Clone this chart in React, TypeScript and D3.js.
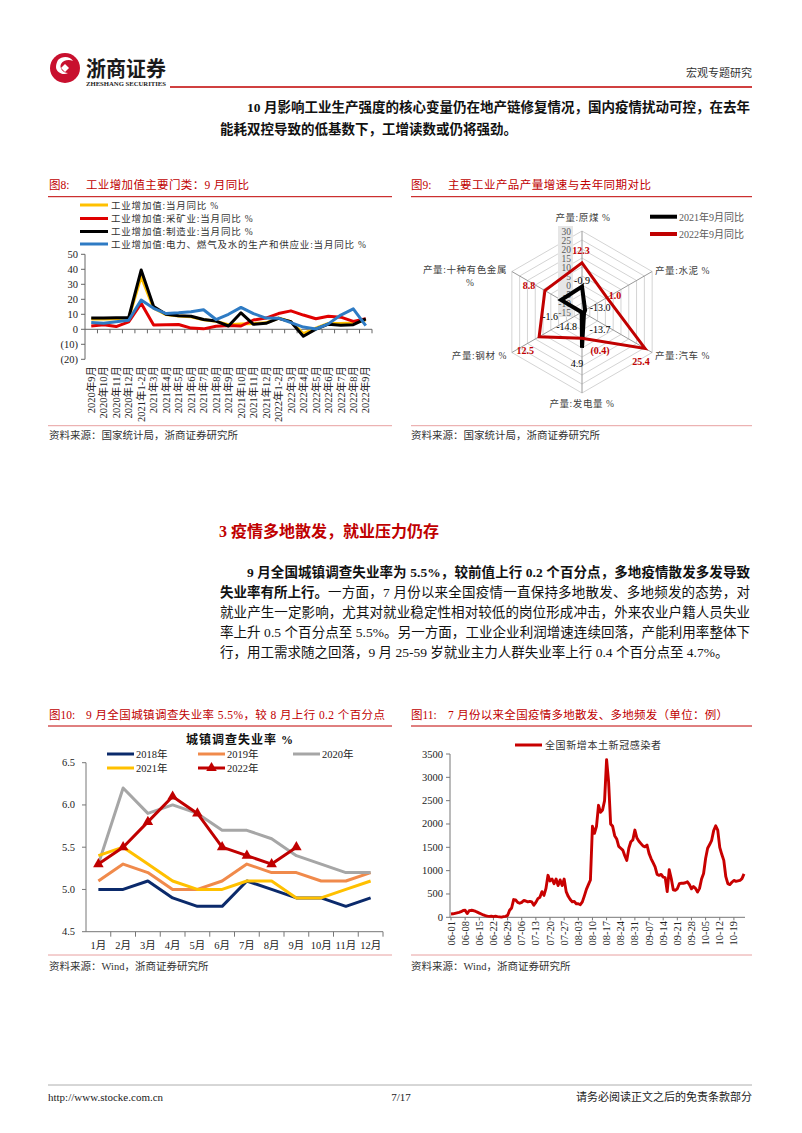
import React from 'react';
import * as d3 from 'd3';

const SERIF = "'Liberation Serif','Times New Roman','Noto Sans CJK SC',serif";
const RED = '#C00000';

// ---------- Figure 8 data ----------
const f8Categories = ['2020年9月', '2020年10月', '2020年11月', '2020年12月', '2021年1-2月', '2021年3月', '2021年4月', '2021年5月', '2021年6月', '2021年7月', '2021年8月', '2021年9月', '2021年10月', '2021年11月', '2021年12月', '2022年1-2月', '2022年3月', '2022年4月', '2022年5月', '2022年6月', '2022年7月', '2022年8月', '2022年9月'];
const f8Total = [6.9, 6.9, 7.0, 7.3, 35.1, 14.1, 9.8, 8.8, 8.3, 6.4, 5.3, 3.1, 3.5, 3.8, 4.3, 7.5, 5.0, -2.9, 0.7, 3.9, 3.8, 4.2, 6.3];
const f8Mining = [2.2, 3.0, 1.8, 5.0, 17.3, 2.8, 3.0, 3.2, 0.8, 0.3, 2.0, 2.6, 2.2, 6.2, 7.5, 10.5, 12.3, 9.5, 7.0, 8.7, 8.1, 5.3, 7.0];
const f8Manufacturing = [7.6, 7.5, 7.7, 7.7, 39.5, 15.2, 10.0, 9.0, 8.7, 6.5, 5.5, 2.2, 11.0, 3.3, 4.0, 7.3, 5.1, -4.6, 0.1, 3.4, 2.7, 3.1, 7.0];
const f8Utilities = [4.5, 4.0, 5.0, 6.0, 19.5, 14.0, 10.5, 11.0, 11.7, 13.0, 6.5, 10.0, 14.6, 10.5, 7.5, 7.4, 4.4, 1.5, 0.2, 3.6, 9.5, 13.6, 2.4];
const f8SeriesNames = ['工业增加值:当月同比 %', '工业增加值:采矿业:当月同比 %', '工业增加值:制造业:当月同比 %', '工业增加值:电力、燃气及水的生产和供应业:当月同比 %'];
const f8Colors = ['#FFC000', '#E00000', '#000000', '#2E7BC4'];
const f8YTicks = [50, 40, 30, 20, 10, 0, -10, -20];

// ---------- Figure 9 data ----------
const f9Axes = ['产量:原煤 %', '产量:水泥 %', '产量:汽车 %', '产量:发电量 %', '产量:钢材 %', '产量:十种有色金属 %'];
const f9Sep2021 = [-0.9, -13.0, -13.7, 4.9, -14.8, -1.6];
const f9Sep2022 = [12.3, 1.0, 25.4, -0.4, 12.5, 8.8];
const f9Ticks = [-15, -10, -5, 0, 5, 10, 15, 20, 25, 30];
const f9Legend = ['2021年9月同比', '2022年9月同比'];

// ---------- Figure 10 data ----------
const f10Months = ['1月', '2月', '3月', '4月', '5月', '6月', '7月', '8月', '9月', '10月', '11月', '12月'];
const f10Y2018 = [5.0, 5.0, 5.1, 4.9, 4.8, 4.8, 5.1, 5.0, 4.9, 4.9, 4.8, 4.9];
const f10Y2019 = [5.1, 5.3, 5.2, 5.0, 5.0, 5.1, 5.3, 5.2, 5.2, 5.1, 5.1, 5.2];
const f10Y2020 = [5.3, 6.2, 5.9, 6.0, 5.9, 5.7, 5.7, 5.6, 5.4, 5.3, 5.2, 5.2];
const f10Y2021 = [5.4, 5.5, 5.3, 5.1, 5.0, 5.0, 5.1, 5.1, 4.9, 4.9, 5.0, 5.1];
const f10Y2022 = [5.3, 5.5, 5.8, 6.1, 5.9, 5.5, 5.4, 5.3, 5.5];
const f10Names = ['2018年', '2019年', '2020年', '2021年', '2022年'];
const f10Colors = ['#0B2A6B', '#F08A4B', '#A6A6A6', '#FFC000', '#C00000'];
const f10YTicks = [4.5, 5.0, 5.5, 6.0, 6.5];

// ---------- Figure 11 data ----------
const f11TickLabels = ['06-01', '06-08', '06-15', '06-22', '06-29', '07-06', '07-13', '07-20', '07-27', '08-03', '08-10', '08-17', '08-24', '08-31', '09-07', '09-14', '09-21', '09-28', '10-05', '10-12', '10-19'];
const f11Cases = [
  70, 75, 85, 95, 105, 120, 145, 150, 80, 140,
  150, 145, 130, 110, 90, 70, 50, 35, 25, 20,
  25, 15, 25, 15, 10, 5, 15, 20, 40, 150,
  200, 380, 370, 320, 300, 320, 360, 350, 330, 340,
  330, 260, 320, 400, 430, 550, 470, 620, 900, 780,
  820, 720, 820, 680, 800, 680, 820, 550, 450, 380,
  330, 340, 290, 290, 270, 330, 460, 600, 700, 800,
  1950, 1800, 1950, 2400, 2250, 2300, 2500, 3380, 2900, 2000,
  1950, 1750, 1680, 1520, 1480, 1440, 1320, 1220, 1480, 1620,
  1660, 1870, 1700, 1630, 1580, 1530, 1510, 1550, 1370, 1260,
  1170, 1080, 920, 900, 920, 860, 850, 550, 1020, 830,
  590, 580, 610, 720, 730, 730, 740, 760, 700, 610,
  660, 620, 540, 620, 820, 940, 1260, 1480, 1560, 1650,
  1860, 1960, 1870, 1500, 1350, 1220, 870, 720, 700, 750,
  790, 770, 780, 790, 830, 930,
];
const f11YTicks = [0, 500, 1000, 1500, 2000, 2500, 3000, 3500];
const f11Legend = '全国新增本土新冠感染者';

function FigTitle({ x, y, num, text, width, ruleX1, ruleX2, ruleY }: any) {
  return (
    <g fontFamily={SERIF} fill={RED} fontSize={11.5}>
      <text x={x} y={y}>{num}</text>
      <text x={x + 37} y={y} textLength={width} lengthAdjust="spacing">{text}</text>
      <line x1={ruleX1} x2={ruleX2} y1={ruleY} y2={ruleY} stroke={RED} strokeWidth={1} />
    </g>
  );
}

function Source({ x, y, text, x1, x2, ly }: any) {
  return (
    <g>
      <line x1={x1} x2={x2} y1={ly} y2={ly} stroke="#E8A0A0" strokeWidth={1} />
      <text x={x} y={y} fontFamily={SERIF} fontSize={10.5} fill="#333">{text}</text>
    </g>
  );
}

function Fig8() {
  const x = d3.scaleBand<string>().domain(f8Categories).range([85, 372]);
  const y = d3.scaleLinear().domain([-20, 50]).range([359.3, 254.3]);
  const cx = (i: number) => (x(f8Categories[i]) as number) + x.bandwidth() / 2;
  const line = d3.line<number>().x((_, i) => cx(i)).y((d) => y(d));
  const series = [f8Total, f8Mining, f8Manufacturing, f8Utilities];
  const fmt = (v: number) => (v < 0 ? `(${-v})` : `${v}`);
  const legendY = [205, 218.5, 231.5, 244];
  return (
    <g fontFamily={SERIF}>
      {f8SeriesNames.map((n, i) => (
        <g key={n}>
          <line x1={80} x2={108} y1={legendY[i]} y2={legendY[i]} stroke={f8Colors[i]} strokeWidth={3} />
          <text x={111} y={legendY[i] + 3.5} fontSize={9.5} letterSpacing={0.8} fill="#333">{n}</text>
        </g>
      ))}
      <line x1={85} x2={85} y1={y(50)} y2={y(-20)} stroke="#666" />
      {f8YTicks.map((t) => (
        <g key={t}>
          <line x1={81} x2={85} y1={y(t)} y2={y(t)} stroke="#666" />
          <text x={78} y={y(t) + 3.5} textAnchor="end" fontSize={10.5} fill="#222">{fmt(t)}</text>
        </g>
      ))}
      <line x1={85} x2={372} y1={y(0)} y2={y(0)} stroke="#666" />
      {f8Categories.map((c) => (
        <line key={'t' + c} x1={x(c)! + x.bandwidth()} x2={x(c)! + x.bandwidth()} y1={y(0)} y2={y(0) + 4} stroke="#666" />
      ))}
      {f8Categories.map((c, i) => (
        <text key={c} transform={`translate(${cx(i) + 3.7},366) rotate(-90)`} textAnchor="end" fontSize={10.5} fill="#222">{c}</text>
      ))}
      {series.map((s, i) => (
        <path key={i} d={line(s) as string} fill="none" stroke={f8Colors[i]} strokeWidth={3} strokeLinejoin="round" />
      ))}
    </g>
  );
}

function Fig9() {
  const cx = 582, cy = 312;
  const r = d3.scaleLinear().domain([-15, 30]).range([0, 81]);
  const ang = (i: number) => (i * Math.PI) / 3;
  const pt = (i: number, v: number) => [cx + r(v) * Math.sin(ang(i)), cy - r(v) * Math.cos(ang(i))];
  const radial = d3.lineRadial<number>().angle((_, i) => ang(i)).radius((d) => r(d)).curve(d3.curveLinearClosed);
  const ringVals = f9Ticks.slice(1);
  const fmtParen = (v: number) => (v < 0 ? `(${(-v).toFixed(1)})` : v.toFixed(1));
  const fmtMinus = (v: number) => v.toFixed(1);
  const off2022 = [[-1, -12], [8, -2], [-4, 13.6], [18, 12.7], [-14, 14], [-16, -4.6]];
  const off2021 = [[0, -6], [15, -3], [16, 16], [-5, 16], [-15, 14], [-11, 17]];
  const axisLabelPos: any[] = [
    { x: 583, y: 221, a: 'middle' },
    { x: 655, y: 274, a: 'start' },
    { x: 655, y: 359, a: 'start' },
    { x: 582, y: 407, a: 'middle' },
    { x: 507, y: 359, a: 'end' },
    { x: 507, y: 273, a: 'end' },
  ];
  return (
    <g fontFamily={SERIF}>
      {ringVals.map((v) => (
        <path key={v} d={radial(f9Axes.map(() => v)) as string} transform={`translate(${cx},${cy})`} fill="none" stroke="#D4D4D4" strokeWidth={1} />
      ))}
      {f9Axes.map((a, i) => {
        const [x2, y2] = pt(i, 30);
        return <line key={a} x1={cx} y1={cy} x2={x2} y2={y2} stroke="#9A9A9A" strokeWidth={1} />;
      })}
      <rect x={558} y={226} width={15} height={91} fill="#E6E6E6" />
      {f9Ticks.map((t) => (
        <text key={t} x={571} y={cy - r(t) + 3.5} textAnchor="end" fontSize={9.5} fill="#595959">{t}</text>
      ))}
      <path d={radial(f9Sep2021) as string} transform={`translate(${cx},${cy})`} fill="none" stroke="#000" strokeWidth={4} strokeLinejoin="miter" />
      <path d={radial(f9Sep2022) as string} transform={`translate(${cx},${cy})`} fill="none" stroke={RED} strokeWidth={3} strokeLinejoin="miter" />
      {f9Sep2022.map((v, i) => {
        const [px, py] = pt(i, v);
        return <text key={'r' + i} x={px + off2022[i][0]} y={py + off2022[i][1] + 3.5} textAnchor="middle" fontSize={10} fontWeight="bold" fill={RED}>{fmtParen(v)}</text>;
      })}
      {f9Sep2021.map((v, i) => {
        const [px, py] = pt(i, v);
        return <text key={'b' + i} x={px + off2021[i][0]} y={py + off2021[i][1] + 3.5} textAnchor="middle" fontSize={10} fill="#000">{fmtMinus(v)}</text>;
      })}
      {f9Axes.map((a, i) => {
        const p = axisLabelPos[i];
        if (i === 5) {
          return (
            <g key={a} fontSize={9.5} fill="#404040">
              <text x={p.x} y={p.y} textAnchor="end" letterSpacing={0.6}>{a.replace(' %', '')}</text>
              <text x={470} y={p.y + 13} textAnchor="middle">%</text>
            </g>
          );
        }
        return <text key={a} x={p.x} y={p.y} textAnchor={p.a} fontSize={9.5} letterSpacing={0.6} fill="#404040">{a}</text>;
      })}
      {f9Legend.map((n, i) => (
        <g key={n}>
          <line x1={650} x2={677} y1={216.7 + i * 17.3} y2={216.7 + i * 17.3} stroke={i === 0 ? '#000' : RED} strokeWidth={4} />
          <text x={679} y={220.5 + i * 17.3} fontSize={10} fill="#595959">{n}</text>
        </g>
      ))}
    </g>
  );
}

function Fig10() {
  const x = d3.scaleBand<string>().domain(f10Months).range([86, 383]);
  const y = d3.scaleLinear().domain([4.5, 6.5]).range([931.7, 762.7]);
  const cx = (i: number) => (x(f10Months[i]) as number) + x.bandwidth() / 2;
  const line = d3.line<number>().x((_, i) => cx(i)).y((d) => y(d));
  const series = [f10Y2018, f10Y2019, f10Y2020, f10Y2021, f10Y2022];
  const tri = d3.symbol().type(d3.symbolTriangle).size(48)();
  const legendPos = [[107, 754], [198, 754], [293, 754], [107, 768], [198, 768]];
  return (
    <g fontFamily={SERIF}>
      <text x={240} y={744} textAnchor="middle" fontSize={12} fontWeight="bold" letterSpacing={1} fill="#111">城镇调查失业率 %</text>
      {f10Names.map((n, i) => (
        <g key={n}>
          <line x1={legendPos[i][0]} x2={legendPos[i][0] + 27} y1={legendPos[i][1]} y2={legendPos[i][1]} stroke={f10Colors[i]} strokeWidth={3} />
          {i === 4 && <path d={tri as string} transform={`translate(${legendPos[i][0] + 13.5},${legendPos[i][1]})`} fill={RED} />}
          <text x={legendPos[i][0] + 29} y={legendPos[i][1] + 4} fontSize={10.5} fill="#222">{n}</text>
        </g>
      ))}
      <line x1={86} x2={86} y1={y(6.5)} y2={y(4.5)} stroke="#777" />
      {f10YTicks.map((t) => (
        <g key={t}>
          <line x1={82} x2={86} y1={y(t)} y2={y(t)} stroke="#777" />
          <text x={75} y={y(t) + 3.5} textAnchor="end" fontSize={10.5} fill="#222">{t.toFixed(1)}</text>
        </g>
      ))}
      <line x1={86} x2={383} y1={y(4.5)} y2={y(4.5)} stroke="#777" />
      {f10Months.map((m) => (
        <line key={'t' + m} x1={x(m)! + x.bandwidth()} x2={x(m)! + x.bandwidth()} y1={y(4.5)} y2={y(4.5) + 5} stroke="#777" />
      ))}
      {f10Months.map((m, i) => (
        <text key={m} x={cx(i)} y={949} textAnchor="middle" fontSize={10.5} fill="#222">{m}</text>
      ))}
      {series.map((s, i) => (
        <path key={i} d={line(s) as string} fill="none" stroke={f10Colors[i]} strokeWidth={3} strokeLinejoin="round" />
      ))}
      {f10Y2022.map((v, i) => (
        <path key={'m' + i} d={tri as string} transform={`translate(${cx(i)},${y(v)})`} fill={RED} />
      ))}
    </g>
  );
}

function Fig11() {
  const x = d3.scaleLinear().domain([0, f11Cases.length - 1]).range([451, 744]);
  const y = d3.scaleLinear().domain([0, 3500]).range([917.3, 754]);
  const line = d3.line<number>().x((_, i) => x(i)).y((d) => y(d));
  return (
    <g fontFamily={SERIF}>
      <line x1={515} x2={542} y1={745} y2={745} stroke="#C80000" strokeWidth={3} />
      <text x={545} y={748.6} fontSize={10} letterSpacing={0.6} fill="#333">{f11Legend}</text>
      <line x1={450} x2={450} y1={y(3500)} y2={y(0)} stroke="#777" />
      {f11YTicks.map((t) => (
        <g key={t}>
          <line x1={446} x2={450} y1={y(t)} y2={y(t)} stroke="#777" />
          <text x={443} y={y(t) + 3.5} textAnchor="end" fontSize={10.5} fill="#222">{t}</text>
        </g>
      ))}
      <line x1={450} x2={745} y1={y(0)} y2={y(0)} stroke="#777" />
      {f11TickLabels.map((l, i) => (
        <g key={l}>
          <line x1={x(i * 7)} x2={x(i * 7)} y1={y(0)} y2={y(0) + 3} stroke="#777" />
          <text transform={`translate(${x(i * 7) + 3.6},921) rotate(-90)`} textAnchor="end" fontSize={10.5} fill="#222">{l}</text>
        </g>
      ))}
      <path d={line(f11Cases) as string} fill="none" stroke="#C80000" strokeWidth={2.9} strokeLinejoin="round" />
    </g>
  );
}

function Header() {
  return (
    <g>
      <circle cx={65} cy={68} r={15} fill="#C8102E" />
      <path d="M58,60 C62,56 70,56 73,61 C69,59 63,60 61,64 C59,68 63,73 68,73 C63,76 56,72 56,67 C56,64 57,62 58,60 Z" fill="#fff" />
      <path d="M65,64 L69,68 L65,72 L61,68 Z" fill="#fff" />
      <text x={86} y={76} fontFamily="'Noto Sans CJK SC',sans-serif" fontWeight="bold" fontSize={21} fill="#1a1a1a" textLength={80} lengthAdjust="spacingAndGlyphs">浙商证券</text>
      <text x={86} y={86} fontFamily={SERIF} fontWeight="bold" fontSize={6.5} fill="#222" textLength={80} lengthAdjust="spacingAndGlyphs">ZHESHANG SECURITIES</text>
      <line x1={170} x2={752} y1={87} y2={87} stroke={RED} strokeWidth={1.5} />
      <text x={752} y={77} textAnchor="end" fontFamily={SERIF} fontSize={11} fill="#333">宏观专题研究</text>
    </g>
  );
}

function Body() {
  const fs = 13.5;
  const ly = [576.5, 596.5, 616.5, 636.5, 656.5];
  return (
    <g fontFamily={SERIF} fontSize={fs} fill="#111">
      <text x={247} y={111.5} fontWeight="bold" textLength={503} lengthAdjust="spacing">10 月影响工业生产强度的核心变量仍在地产链修复情况，国内疫情扰动可控，在去年</text>
      <text x={220} y={133.5} fontWeight="bold">能耗双控导致的低基数下，工增读数或仍将强劲。</text>

      <text x={219} y={537} fontSize={16} fontWeight="bold" fill={RED}>3 疫情多地散发，就业压力仍存</text>

      <text x={247} y={ly[0]} fontWeight="bold" textLength={503} lengthAdjust="spacing">9 月全国城镇调查失业率为 5.5%，较前值上行 0.2 个百分点，多地疫情散发多发导致</text>
      <text x={220} y={ly[1]} fontWeight="bold">失业率有所上行。</text>
      <text x={328} y={ly[1]} textLength={422} lengthAdjust="spacing">一方面，7 月份以来全国疫情一直保持多地散发、多地频发的态势，对</text>
      <text x={220} y={ly[2]} textLength={530} lengthAdjust="spacing">就业产生一定影响，尤其对就业稳定性相对较低的岗位形成冲击，外来农业户籍人员失业</text>
      <text x={220} y={ly[3]} textLength={530} lengthAdjust="spacing">率上升 0.5 个百分点至 5.5%。另一方面，工业企业利润增速连续回落，产能利用率整体下</text>
      <text x={220} y={ly[4]}>行，用工需求随之回落，9 月 25-59 岁就业主力人群失业率上行 0.4 个百分点至 4.7%。</text>
    </g>
  );
}

function Footer() {
  return (
    <g fontFamily={SERIF} fontSize={11} fill="#222">
      <line x1={48} x2={752} y1={1085} y2={1085} stroke="#999" strokeWidth={0.8} />
      <text x={48} y={1101}>http://www.stocke.com.cn</text>
      <text x={401} y={1101} textAnchor="middle">7/17</text>
      <text x={752} y={1101} textAnchor="end">请务必阅读正文之后的免责条款部分</text>
    </g>
  );
}

export default function App() {
  return (
    <svg width={802} height={1133} viewBox="0 0 802 1133" style={{ position: 'absolute', left: 0, top: 0, background: '#fff' }}>
      <rect x={0} y={0} width={802} height={1133} fill="#fff" />
      <Header />
      <Body />
      <FigTitle x={49} y={189} num="图8:" text="工业增加值主要门类：9 月同比" width={163} ruleX1={48} ruleX2={392} ruleY={196.7} />
      <FigTitle x={411} y={189} num="图9:" text="主要工业产品产量增速与去年同期对比" width={203} ruleX1={411} ruleX2={752} ruleY={196.7} />
      <Fig8 />
      <Fig9 />
      <Source x={49} y={439} text="资料来源：国家统计局，浙商证券研究所" x1={48} x2={392} ly={425.7} />
      <Source x={411} y={439} text="资料来源：国家统计局，浙商证券研究所" x1={411} x2={752} ly={425.7} />
      <FigTitle x={49} y={719} num="图10:" text="9 月全国城镇调查失业率 5.5%，较 8 月上行 0.2 个百分点" width={299} ruleX1={48} ruleX2={392} ruleY={726} />
      <FigTitle x={411} y={719} num="图11:" text="7 月份以来全国疫情多地散发、多地频发（单位：例）" width={280} ruleX1={411} ruleX2={752} ruleY={726} />
      <Fig10 />
      <Fig11 />
      <Source x={49} y={970} text="资料来源：Wind，浙商证券研究所" x1={48} x2={392} ly={955} />
      <Source x={411} y={970} text="资料来源：Wind，浙商证券研究所" x1={411} x2={752} ly={955} />
      <Footer />
    </svg>
  );
}
